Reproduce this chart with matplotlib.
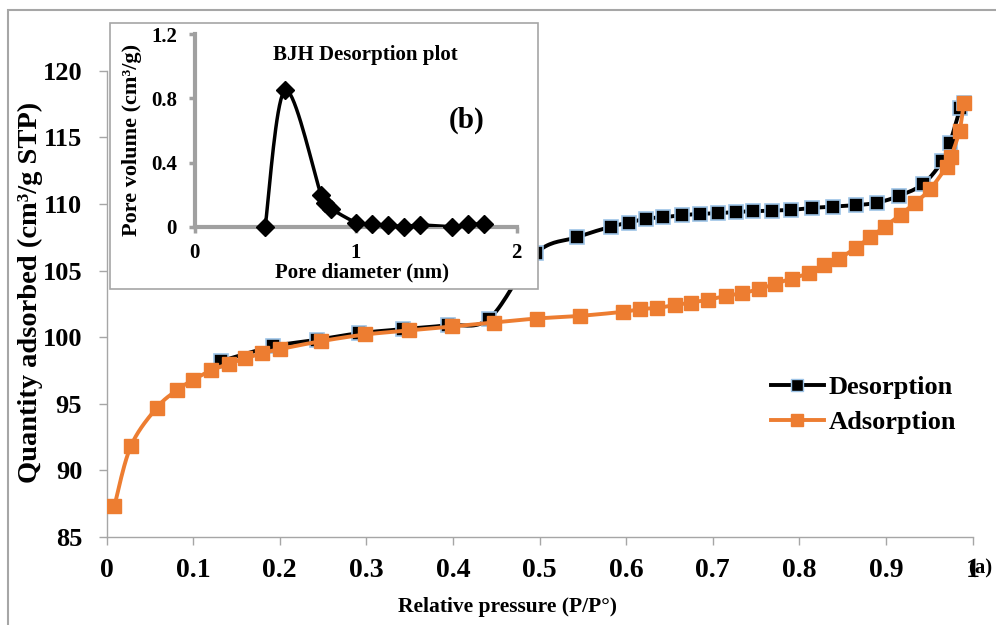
import numpy as np
import matplotlib
matplotlib.use('Agg')
import matplotlib.pyplot as plt
from matplotlib.patches import Rectangle
from matplotlib.lines import Line2D

# isotherm data
ads_p = [0.009, 0.028, 0.058, 0.081, 0.100, 0.121, 0.141, 0.160, 0.180, 0.200,
         0.248, 0.299, 0.349, 0.399, 0.447, 0.497, 0.547, 0.596, 0.616, 0.636,
         0.656, 0.675, 0.694, 0.715, 0.734, 0.753, 0.772, 0.791, 0.811, 0.828,
         0.846, 0.865, 0.882, 0.899, 0.917, 0.934, 0.951, 0.970, 0.975, 0.985, 0.990]
ads_q = [87.3, 91.8, 94.7, 96.0, 96.8, 97.5, 98.0, 98.4, 98.8, 99.1,
         99.7, 100.2, 100.5, 100.8, 101.1, 101.4, 101.6, 101.9, 102.1, 102.2,
         102.4, 102.6, 102.8, 103.1, 103.3, 103.6, 104.0, 104.4, 104.8, 105.4,
         105.9, 106.7, 107.5, 108.3, 109.2, 110.1, 111.1, 112.8, 113.5, 115.5, 117.6]

des_p = [0.132, 0.192, 0.243, 0.292, 0.342, 0.394, 0.442, 0.496, 0.543, 0.583,
         0.603, 0.623, 0.643, 0.664, 0.685, 0.706, 0.727, 0.747, 0.769, 0.790,
         0.815, 0.839, 0.865, 0.890, 0.915, 0.943, 0.965, 0.974, 0.986, 0.990]
des_q = [98.2, 99.3, 99.8, 100.3, 100.6, 100.9, 101.4, 106.3, 107.5, 108.3,
         108.6, 108.9, 109.0, 109.15, 109.25, 109.3, 109.4, 109.45, 109.5, 109.55,
         109.7, 109.8, 109.9, 110.1, 110.6, 111.5, 113.2, 114.6, 117.2, 117.6]

# BJH pore size distribution
pore_d = [0.437, 0.561, 0.784, 0.807, 0.848, 1.004, 1.10, 1.20, 1.30, 1.40, 1.60, 1.70, 1.80]
pore_v = [0.0, 0.852, 0.20, 0.146, 0.11, 0.025, 0.015, 0.01, 0.0, 0.01, 0.0, 0.015, 0.015]

orange = '#ED7D31'
edge_blue = '#9DC3E6'
grey = '#A6A6A6'
W, H = 996, 625


def smooth(x, y, n=20):
    # excel style smoothed line (catmull-rom bezier)
    x = np.asarray(x, float); y = np.asarray(y, float)
    pts = np.column_stack([x, y])
    out = [pts[0]]
    for i in range(len(pts) - 1):
        p0 = pts[i - 1] if i > 0 else pts[i]
        p1 = pts[i]
        p2 = pts[i + 1]
        p3 = pts[i + 2] if i + 2 < len(pts) else pts[i + 1]
        c1 = p1 + (p2 - p0) / 6.0
        c2 = p2 - (p3 - p1) / 6.0
        t = np.linspace(0, 1, n)[1:, None]
        seg = ((1 - t) ** 3) * p1 + 3 * ((1 - t) ** 2) * t * c1 + 3 * (1 - t) * t ** 2 * c2 + t ** 3 * p2
        out.extend(seg)
    out = np.array(out)
    return out[:, 0], out[:, 1]


def fx(px):
    return px / W


def fy(py):
    return 1 - py / H


plt.rcParams['font.family'] = 'Liberation Serif'
plt.rcParams['font.weight'] = 'bold'

fig = plt.figure(figsize=(9.96, 6.25), dpi=100)
fig.patches.append(Rectangle((fx(8), -0.1), 1.2, fy(10) + 0.1, transform=fig.transFigure,
                             fill=False, edgecolor=grey, lw=1.5))

ax = fig.add_axes([fx(106.5), fy(537), (972.5 - 106.5) / W, (537 - 70.7) / H])
sx, sy = smooth(des_p, des_q)
ax.plot(sx, sy, color='black', lw=2.8, zorder=2)
ax.plot(des_p, des_q, ls='none', marker='s', ms=10, mfc='black', mec=edge_blue, mew=1.2, zorder=3)
sx, sy = smooth(ads_p, ads_q)
ax.plot(sx, sy, color=orange, lw=2.8, zorder=4)
ax.plot(ads_p, ads_q, ls='none', marker='s', ms=10.5, mfc=orange, mec=orange, zorder=5)

ax.set_xlim(0, 1)
ax.set_ylim(85, 120)
ax.set_xticks(np.arange(0, 1.01, 0.1))
ax.set_xticklabels(['0', '0.1', '0.2', '0.3', '0.4', '0.5', '0.6', '0.7', '0.8', '0.9', '1'])
ax.set_yticks(range(85, 121, 5))
for s in ['top', 'right']:
    ax.spines[s].set_visible(False)
for s in ['left', 'bottom']:
    ax.spines[s].set_color(grey)
    ax.spines[s].set_linewidth(1.0)
ax.tick_params(axis='both', colors=grey, length=6, width=1.0, labelcolor='black')
ax.tick_params(axis='x', pad=9, labelsize=20)
ax.tick_params(axis='y', pad=11.5, labelsize=19)

fig.text(fx(30), fy(292), 'Quantity adsorbed (cm³/g STP)', rotation=90,
         ha='center', va='center', fontsize=20.5, fontweight='bold')
fig.text(fx(507), fy(607), 'Relative pressure (P/P°)', ha='center', va='center',
         fontsize=15.5, fontweight='bold')
fig.text(fx(968), fy(568), '(a)', ha='left', va='center', fontsize=15, fontweight='bold')

# legend
h1 = Line2D([], [], color='black', lw=2.8, marker='s', ms=9, mfc='black', mec=edge_blue)
h2 = Line2D([], [], color=orange, lw=2.8, marker='s', ms=9, mfc=orange, mec=orange)
fig.legend([h1, h2], ['Desorption', 'Adsorption'], loc='center left',
           bbox_to_anchor=(fx(747), fy(405)), frameon=False,
           handlelength=2.0, handletextpad=0.2, labelspacing=0.45,
           prop={'family': 'Liberation Serif', 'weight': 'bold', 'size': 19})

# inset box and BJH plot
fig.patches.append(Rectangle((fx(110), fy(289.3)), (537.7 - 110) / W, (289.3 - 23.4) / H,
                             transform=fig.transFigure, facecolor='white', edgecolor=grey,
                             lw=1.2, zorder=5))
ins = fig.add_axes([fx(194.9), fy(226.6), (516.5 - 194.9) / W, (226.6 - 34.4) / H], zorder=6)
ins.patch.set_alpha(0)
sx, sy = smooth(pore_d, pore_v)
ins.plot(sx, sy, color='black', lw=2.5, zorder=3)
ins.plot(pore_d, pore_v, ls='none', marker='D', ms=9, color='black', zorder=4, clip_on=False)
ins.set_xlim(0, 2)
ins.set_ylim(0, 1.2)
ins.set_xticks([0, 1, 2])
ins.set_yticks([0, 0.4, 0.8, 1.2])
ins.set_yticklabels(['0', '0.4', '0.8', '1.2'])
for s in ['top', 'right']:
    ins.spines[s].set_visible(False)
for s in ['left', 'bottom']:
    ins.spines[s].set_color('#A0A0A0')
    ins.spines[s].set_linewidth(3)
ins.tick_params(axis='both', colors='#A0A0A0', direction='out', length=4, width=2.5,
                labelcolor='black', labelsize=15)
ins.tick_params(axis='x', pad=8)
ins.tick_params(axis='y', pad=9)
fig.text(fx(132), fy(139.5), 'Pore volume (cm³/g)', rotation=90, ha='center', va='center',
         fontsize=16, fontweight='bold', zorder=7)
fig.text(fx(362), fy(272), 'Pore diameter (nm)', ha='center', va='center',
         fontsize=15, fontweight='bold', zorder=7)
fig.text(fx(365), fy(55), 'BJH Desorption plot', ha='center', va='center',
         fontsize=15, fontweight='bold', zorder=7)
fig.text(fx(467), fy(120.5), '(b)', ha='center', va='center',
         fontsize=21, fontweight='bold', zorder=7)

fig.savefig('out.png', dpi=100)
